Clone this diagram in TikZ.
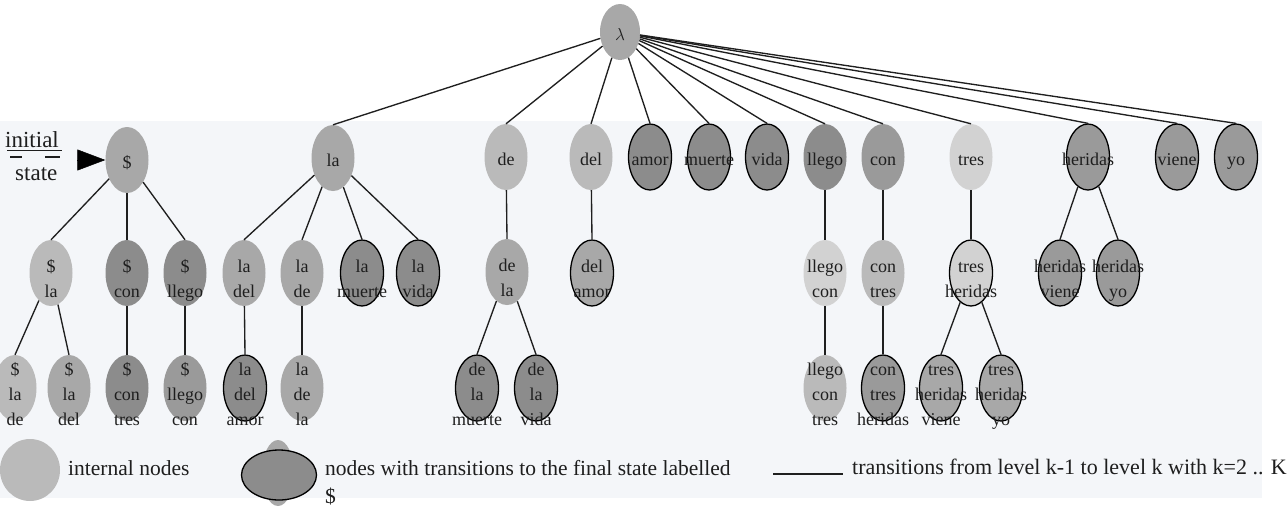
\documentclass[tikz,border=0pt]{standalone}
\usepackage{fontspec}
\setmainfont{Liberation Serif}
\usetikzlibrary{shapes.geometric,arrows.meta}
\definecolor{bgc}{HTML}{F4F6F9}
\definecolor{txt}{HTML}{1E1E1E}
\definecolor{ga}{HTML}{D2D2D2}
\definecolor{gb}{HTML}{BABABA}
\definecolor{gc}{HTML}{A8A8A8}
\definecolor{gd}{HTML}{9A9A9A}
\definecolor{ge}{HTML}{8C8C8C}
\newcommand{\nt}[1]{\raisebox{-7.5pt}[0pt][0pt]{\makebox[0pt]{\begin{tabular}{@{}c@{}}#1\end{tabular}}}}
\newcommand{\ntm}[1]{\raisebox{-11.5pt}[0pt][0pt]{\makebox[0pt]{\begin{tabular}{@{}c@{}}#1\end{tabular}}}}
\tikzset{
  st/.style={ellipse, inner sep=0pt, minimum width=43pt, minimum height=66pt,
             font={\fontsize{18}{25}\selectfont}, text=txt},
  fin/.style={st, draw=black, line width=1.3pt},
  edge/.style={line width=1.35pt, draw=black!88},
  legtext/.style={anchor=base west, inner sep=0pt, text=txt, font={\fontsize{21.5}{26}\selectfont}},
}
\begin{document}
\begin{tikzpicture}[x=1pt,y=-1pt]
\useasboundingbox (0,0) rectangle (1288,507);
\fill[bgc] (0,121) rectangle (1262,498);

% root
\node[st, fill=gc, minimum width=40pt, minimum height=56pt] (lam) at (620,32) {\nt{$\lambda$}};

% level 1
\node[st, fill=gc] (s) at (127,160) {\nt{\$}};
\node[st, fill=gc] (la) at (333,158) {\nt{la}};
\node[st, fill=gb] (de) at (506,157) {\nt{de}};
\node[st, fill=gb] (del) at (591,157) {\nt{del}};
\node[fin, fill=ge] (amor) at (650,157) {\nt{amor}};
\node[fin, fill=ge] (muerte) at (709,157) {\nt{muerte}};
\node[fin, fill=ge] (vida) at (767,157) {\nt{vida}};
\node[st, fill=ge] (llego) at (825,157) {\nt{llego}};
\node[st, fill=gd] (con) at (883,157) {\nt{con}};
\node[st, fill=ga] (tres) at (971,157) {\nt{tres}};
\node[fin, fill=gd] (heridas) at (1088,157) {\nt{heridas}};
\node[fin, fill=gd] (viene) at (1177,157) {\nt{viene}};
\node[fin, fill=gd] (yo) at (1236,157) {\nt{yo}};

% level 2
\node[st, fill=gb] (sla) at (51,273) {\ntm{\$\\la}};
\node[st, fill=ge] (scon) at (127,273) {\ntm{\$\\con}};
\node[st, fill=ge] (sllego) at (185,273) {\ntm{\$\\llego}};
\node[st, fill=gc] (ladel) at (244,273) {\ntm{la\\del}};
\node[st, fill=gc] (lade) at (302,273) {\ntm{la\\de}};
\node[fin, fill=ge] (lamuerte) at (362,273) {\ntm{la\\muerte}};
\node[fin, fill=ge] (lavida) at (418,273) {\ntm{la\\vida}};
\node[st, fill=gc] (dela) at (507,272) {\ntm{de\\la}};
\node[fin, fill=gc] (delamor) at (592,273) {\ntm{del\\amor}};
\node[st, fill=ga] (llegocon) at (825,273) {\ntm{llego\\con}};
\node[st, fill=gb] (contres) at (883,273) {\ntm{con\\tres}};
\node[fin, fill=ga] (tresheridas) at (971,273) {\ntm{tres\\heridas}};
\node[fin, fill=gd] (heridasviene) at (1060,273) {\ntm{heridas\\viene}};
\node[fin, fill=gd] (heridasyo) at (1118,273) {\ntm{heridas\\yo}};

% level 3
\node[st, fill=gb] (slade) at (15,388) {\ntm{\$\\la\\de}};
\node[st, fill=gc] (sladel) at (69,388) {\ntm{\$\\la\\del}};
\node[st, fill=ge] (scontres) at (127,388) {\ntm{\$\\con\\tres}};
\node[st, fill=gd] (sllegocon) at (185,388) {\ntm{\$\\llego\\con}};
\node[fin, fill=ge] (ladelamor) at (245,388) {\ntm{la\\del\\amor}};
\node[st, fill=gc] (ladela) at (302,388) {\ntm{la\\de\\la}};
\node[fin, fill=ge] (delamuerte) at (477,388) {\ntm{de\\la\\muerte}};
\node[fin, fill=ge] (delavida) at (536,388) {\ntm{de\\la\\vida}};
\node[st, fill=gb] (llegocontres) at (825,388) {\ntm{llego\\con\\tres}};
\node[fin, fill=gd] (contresheridas) at (883,388) {\ntm{con\\tres\\heridas}};
\node[fin, fill=gc] (tresheridasviene) at (941,388) {\ntm{tres\\heridas\\viene}};
\node[fin, fill=gc] (tresheridasyo) at (1001,388) {\ntm{tres\\heridas\\yo}};

% edges from root
\foreach \c in {la,de,del,amor,muerte,vida,llego,con,tres,heridas,viene,yo}
  \draw[edge] (lam) -- (\c.north);

% edges level 1 -> 2 -> 3
\foreach \p/\c in {s/sla, s/scon, s/sllego, sla/slade, sla/sladel, scon/scontres, sllego/sllegocon,
                   la/ladel, la/lade, la/lamuerte, la/lavida, ladel/ladelamor, lade/ladela,
                   de/dela, dela/delamuerte, dela/delavida, del/delamor,
                   llego/llegocon, llegocon/llegocontres, con/contres, contres/contresheridas,
                   tres/tresheridas, tresheridas/tresheridasviene, tresheridas/tresheridasyo,
                   heridas/heridasviene, heridas/heridasyo}
  \draw[edge] (\p) -- (\c.north);

% initial state
\node[anchor=base west, inner sep=0pt, text=txt, font={\fontsize{23}{28}\selectfont}] (initlbl) at (5,147) {initial};
\node[anchor=base west, inner sep=0pt, text=txt, font={\fontsize{23}{28}\selectfont}] (statelbl) at (15,180) {state};
\draw[line width=0.9pt, txt] (initlbl.base west) ++(2,3) -- ++(55,0);
\draw[line width=1.2pt, txt] (initlbl.base west) ++(5,10) -- ++(12,0);
\draw[line width=1.2pt, txt] (initlbl.base west) ++(40,10) -- ++(15,0);
\coordinate (initstart) at (79,160);
\draw[line width=0.5pt, -{Triangle[length=28pt,width=21pt]}] (initstart) -- (s.west);

% legend
\node[ellipse, inner sep=0pt, minimum width=60pt, minimum height=62pt, fill=gb] (leginternal) at (30,470) {};
\node[legtext] (leginternaltxt) at (68,475) {internal nodes};
\node[ellipse, inner sep=0pt, minimum width=32pt, minimum height=66pt, fill=gc] (legfinalback) at (278,473) {};
\node[ellipse, inner sep=0pt, minimum width=75pt, minimum height=50pt, fill=ge, draw=black, line width=1.3pt] (legfinal) at (279,475) {};
\node[legtext] (legfinaltxt) at (325,475) {nodes with transitions to the final state labelled};
\node[legtext] (legfinaltxt2) at (325,503) {\$};
\coordinate (leglineA) at (773,474);
\coordinate (leglineB) at (843,474);
\draw[edge] (leglineA) -- (leglineB);
\node[legtext, font={\fontsize{22}{26}\selectfont}] (legtranstxt) at (852,474) {transitions from level k-1 to level k with k=2 .. K};
\end{tikzpicture}
\end{document}
